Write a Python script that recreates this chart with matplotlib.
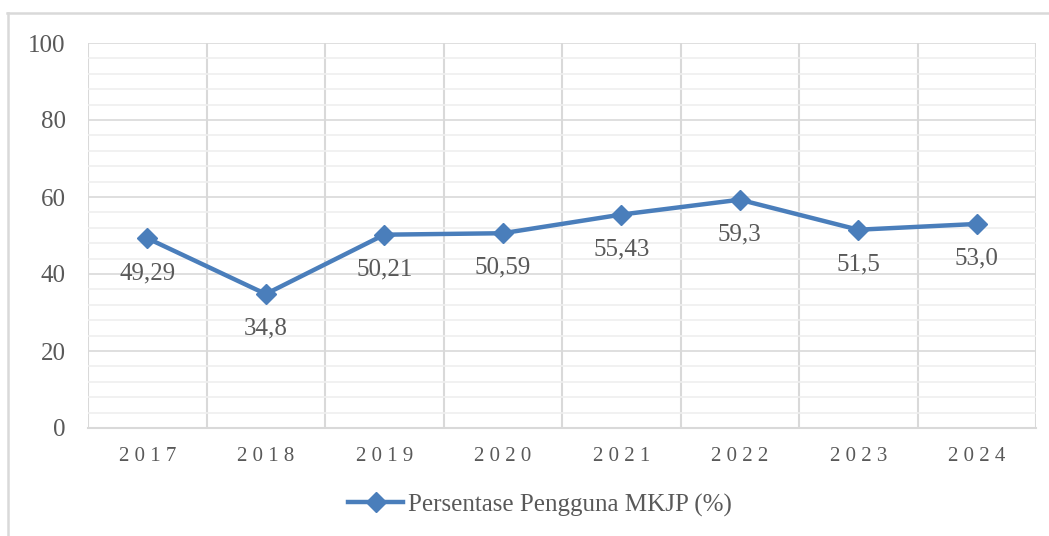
import matplotlib
matplotlib.use("Agg")
import matplotlib.pyplot as plt
from matplotlib.lines import Line2D
from matplotlib.ticker import MultipleLocator

# data
years = ["2017", "2018", "2019", "2020", "2021", "2022", "2023", "2024"]
values = [49.29, 34.8, 50.21, 50.59, 55.43, 59.3, 51.5, 53.0]
value_labels = ["49,29", "34,8", "50,21", "50,59", "55,43", "59,3", "51,5", "53,0"]
series_name = "Persentase Pengguna MKJP (%)"

line_color = "#4a7ebb"
text_color = "#595959"
grid_major = "#d9d9d9"
grid_minor = "#efefef"

plt.rcParams["font.family"] = ["Liberation Serif", "DejaVu Serif"]

W, H = 1049, 536
fig = plt.figure(figsize=(W / 100, H / 100), dpi=100)
ax = fig.add_axes([88 / W, 1 - 428 / H, (1036 - 88) / W, (428 - 43) / H])

x = list(range(len(years)))
ax.plot(x, values, color=line_color, lw=3.2, marker="D", markersize=10.5,
        label=series_name, solid_joinstyle="round", zorder=3)

for xi, v, lab in zip(x, values, value_labels):
    ax.annotate(lab, (xi, v), xytext=(0, -25), textcoords="offset points",
                ha="center", va="center", fontsize=18, color=text_color)

ax.set_xlim(-0.5, len(years) - 0.5)
ax.set_ylim(0, 100)
ax.yaxis.set_major_locator(MultipleLocator(20))
ax.yaxis.set_minor_locator(MultipleLocator(4))
ax.grid(which="major", axis="y", color=grid_major, lw=1.2, zorder=0)
ax.grid(which="minor", axis="y", color=grid_minor, lw=1.2, zorder=0)

# vertical separators between categories
for b in range(len(years) + 1):
    ax.axvline(b - 0.5, color=grid_major, lw=1.5, zorder=1)

ax.set_xticks(x)
ax.set_xticklabels([" ".join(y) for y in years])
ax.tick_params(axis="x", length=0, pad=14, labelsize=15, labelcolor=text_color)
ax.tick_params(axis="y", which="both", length=0, pad=16, labelsize=18, labelcolor=text_color)

for side in ["top", "right", "left"]:
    ax.spines[side].set_visible(False)
ax.spines["bottom"].set_color(grid_major)
ax.spines["bottom"].set_linewidth(1.5)

fig.legend(loc="center", bbox_to_anchor=(0.515, 1 - 505 / H), frameon=False,
           fontsize=18, labelcolor=text_color, handlelength=2.2, handletextpad=0.2)

# outer chart border (partially cropped in the reference)
fig.add_artist(Line2D([7 / W, 1], [1 - 13 / H, 1 - 13 / H], transform=fig.transFigure,
                      color=grid_major, lw=1.8))
fig.add_artist(Line2D([8 / W, 8 / W], [0, 1 - 13 / H], transform=fig.transFigure,
                      color=grid_major, lw=1.8))

fig.savefig("out.png", dpi=100, facecolor="white")
